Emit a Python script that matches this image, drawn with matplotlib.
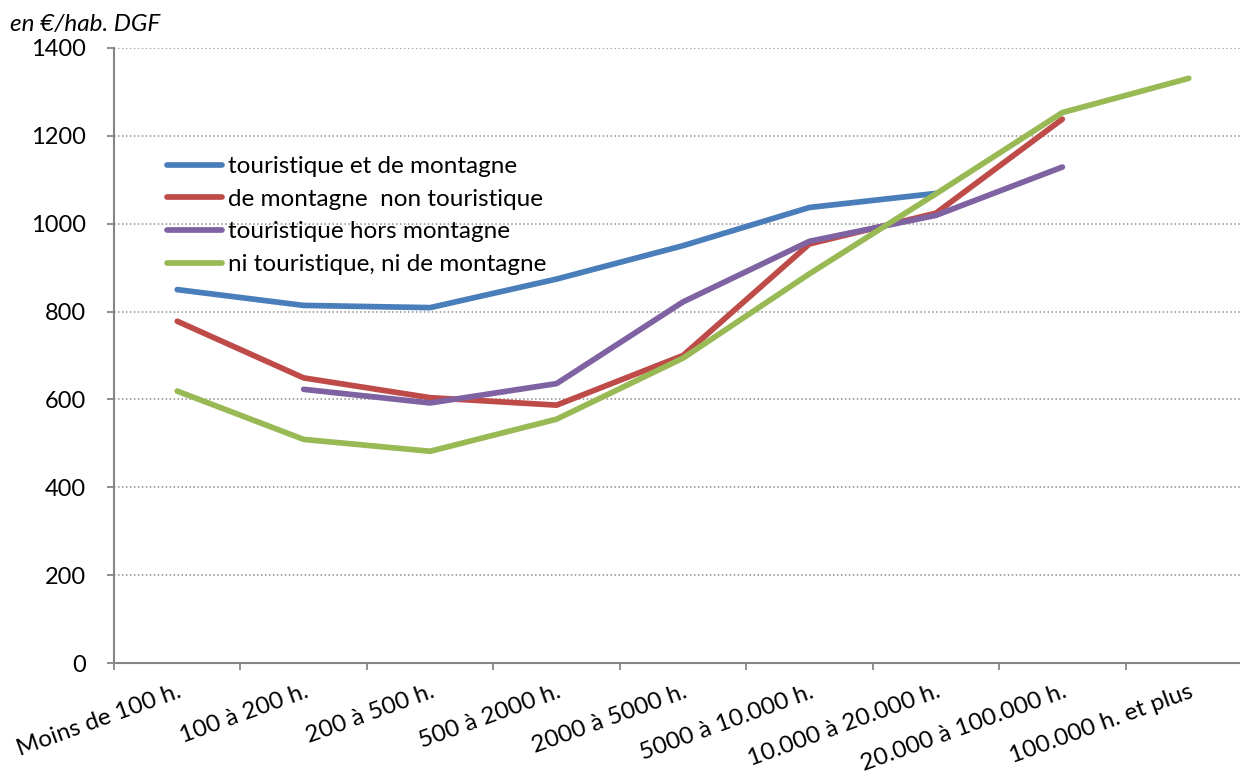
import matplotlib
matplotlib.use("Agg")
import matplotlib.pyplot as plt
import numpy as np

categories = ["Moins de 100 h.", "100 à 200 h.", "200 à 500 h.", "500 à 2000 h.",
              "2000 à 5000 h.", "5000 à 10.000 h.", "10.000 à 20.000 h.",
              "20.000 à 100.000 h.", "100.000 h. et plus"]

series_names = ["touristique et de montagne", "de montagne  non touristique",
                "touristique hors montagne", "ni touristique, ni de montagne"]

touristique_montagne = [850, 814, 809, 874, 950, 1037, 1069, None, None]
montagne_non_tour = [778, 649, 604, 587, 700, 954, 1024, 1238, None]
tour_hors_montagne = [None, 623, 592, 636, 822, 960, 1019, 1129, None]
ni_ni = [619, 509, 482, 555, 694, 886, 1068, 1253, 1331]

colors = ["#4A7EBB", "#BE4B48", "#7E62A1", "#98B954"]
yticks = [0, 200, 400, 600, 800, 1000, 1200, 1400]

plt.rcParams['font.family'] = ['Lato', 'DejaVu Sans']

fig = plt.figure(figsize=(12.4, 7.73), dpi=100)
ax = fig.add_axes([114/1240, 1-663/773, (1252-114)/1240, (663-48)/773])

x = np.arange(len(categories))
all_series = [touristique_montagne, montagne_non_tour, tour_hors_montagne, ni_ni]
for name, vals, c in zip(series_names, all_series, colors):
    y = np.array([np.nan if v is None else v for v in vals], dtype=float)
    ax.plot(x, y, color=c, lw=4.1, label=name, solid_capstyle='round',
            solid_joinstyle='round')

ax.set_xlim(-0.5, len(categories) - 0.5)
ax.set_ylim(0, 1400)
ax.set_yticks(yticks)
ax.set_yticklabels([str(v) for v in yticks], fontsize=17)
for v in yticks[1:]:
    ax.axhline(v, color='#8C8C8C', lw=1.1, ls=(0, (1, 1.6)), zorder=0)

ax.set_xticks(x)
ax.set_xticklabels(categories, fontsize=17.5, rotation=20, ha='right',
                   va='top', rotation_mode='anchor')
ax.tick_params(axis='x', which='major', length=0, pad=13)
ax.set_xticks(np.arange(-0.5, len(categories) - 0.4, 1), minor=True)
ax.tick_params(axis='x', which='minor', length=5, width=1.3, color='#868686')
ax.tick_params(axis='y', length=5, width=1.3, color='#868686', pad=15)

for s in ['top', 'right']:
    ax.spines[s].set_visible(False)
for s in ['left', 'bottom']:
    ax.spines[s].set_color('#868686')
    ax.spines[s].set_linewidth(1.5)

fig.text(10/1240, 1-25/773, "en €/hab. DGF", fontsize=17.5, style='italic',
         va='center', ha='left')

leg = ax.legend(loc='upper left', bbox_to_anchor=(167/1240, 1-156/773),
                bbox_transform=fig.transFigure, frameon=False, fontsize=17.5,
                handlelength=2.25, handletextpad=0.25, labelspacing=0.48,
                borderaxespad=0, borderpad=0)

fig.savefig("out.png", dpi=100)
